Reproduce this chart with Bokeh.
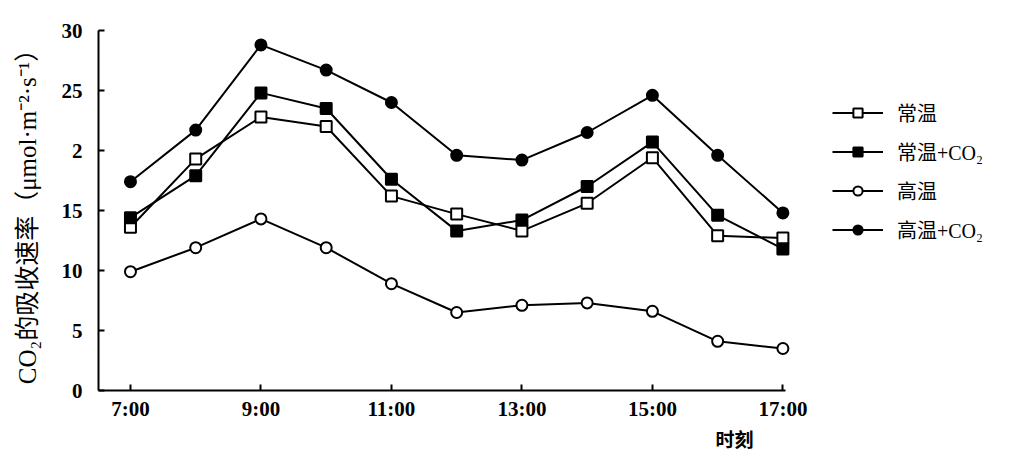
from bokeh.plotting import figure
from bokeh.models import Range1d, FixedTicker, Legend, LegendItem, Title
from bokeh.embed import file_html
from bokeh.resources import INLINE

hours = [7, 8, 9, 10, 11, 12, 13, 14, 15, 16, 17]
normal = [13.6, 19.3, 22.8, 22.0, 16.2, 14.7, 13.3, 15.6, 19.4, 12.9, 12.7]
normal_co2 = [14.4, 17.9, 24.8, 23.5, 17.6, 13.3, 14.2, 17.0, 20.7, 14.6, 11.8]
high = [9.9, 11.9, 14.3, 11.9, 8.9, 6.5, 7.1, 7.3, 6.6, 4.1, 3.5]
high_co2 = [17.4, 21.7, 28.8, 26.7, 24.0, 19.6, 19.2, 21.5, 24.6, 19.6, 14.8]

x_ticks = [7, 9, 11, 13, 15, 17]
x_tick_labels = ["7:00", "9:00", "11:00", "13:00", "15:00", "17:00"]
y_ticks = [0, 5, 10, 15, 20, 25, 30]
y_tick_labels = ["0", "5", "10", "15", "2", "25", "30"]
series_names = ["常温", "常温+CO₂", "高温", "高温+CO₂"]

SERIF = "Liberation Serif"
CJK = "Liberation Serif, Noto Sans CJK SC"

# layout: axis from 6.51 to 17.04 h spanning 687 px; frame extended right for legend
x_start, x_axis_end = 6.51, 17.04
axis_px = 687
frame_w = 907
x_end = x_start + (x_axis_end - x_start) * frame_w / axis_px

p = figure(frame_width=frame_w, frame_height=360, output_backend="svg", toolbar_location=None,
           x_range=Range1d(x_start, x_end), y_range=Range1d(0, 30),
           min_border_left=98, min_border_top=30, min_border_right=5, min_border_bottom=60)
p.outline_line_color = None
p.xgrid.visible = False
p.ygrid.visible = False
p.background_fill_color = "white"
p.border_fill_color = "white"

for ax in (p.xaxis[0], p.yaxis[0]):
    ax.axis_line_color = "black"
    ax.axis_line_width = 2
    ax.major_tick_line_color = "black"
    ax.major_tick_line_width = 2
    ax.major_tick_in = 6
    ax.major_tick_out = 0
    ax.minor_tick_line_color = None
    ax.major_label_text_font = SERIF
    ax.major_label_text_font_size = "21px"
    ax.major_label_text_font_style = "bold"
    ax.major_label_text_color = "black"

p.xaxis.bounds = (x_start, x_axis_end)
p.xaxis.ticker = FixedTicker(ticks=x_ticks)
p.xaxis.major_label_overrides = {t: l for t, l in zip(x_ticks, x_tick_labels)}
p.xaxis.major_label_standoff = 6
p.yaxis.ticker = FixedTicker(ticks=y_ticks)
p.yaxis.major_label_overrides = {t: l for t, l in zip(y_ticks, y_tick_labels)}
p.yaxis.major_label_standoff = 16
p.yaxis.axis_label = "CO₂的吸收速率（μmol·m⁻²·s⁻¹）"
p.yaxis.axis_label_text_font = CJK
p.yaxis.axis_label_text_font_size = "25px"
p.yaxis.axis_label_text_font_style = "normal"
p.yaxis.axis_label_text_color = "black"
p.yaxis.axis_label_standoff = 18

styles = [
    (normal, "square", "white"),
    (normal_co2, "square", "black"),
    (high, "circle", "white"),
    (high_co2, "circle", "black"),
]
items = []
for name, (vals, marker, fill) in zip(series_names, styles):
    ln = p.line(hours, vals, line_color="black", line_width=2)
    sc = p.scatter(hours, vals, marker=marker, size=11, fill_color=fill,
                   line_color="black", line_width=2)
    items.append(LegendItem(label=name, renderers=[ln, sc]))

legend = Legend(items=items, location=(734, 146), glyph_width=51, glyph_height=23,
                label_height=23, spacing=10, label_standoff=14, padding=0, margin=0,
                border_line_color=None, background_fill_alpha=0,
                label_text_font=CJK, label_text_font_size="20px", label_text_color="black")
p.add_layout(legend, "center")

xt = Title(text="时刻", align="left", offset=617, text_font=CJK,
           text_font_size="19px", text_font_style="bold", text_color="black", standoff=8)
p.add_layout(xt, "below")

open("out.html", "w").write(file_html(p, INLINE))
